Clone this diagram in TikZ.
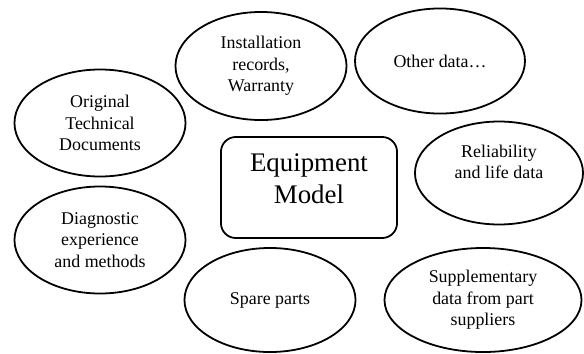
\documentclass[tikz,border=0pt]{standalone}
\usepackage{fontspec}
\setmainfont{Liberation Serif}
\usetikzlibrary{shapes.geometric}
\tikzset{
  oval/.style={ellipse, draw, line width=1.2pt, inner sep=0pt, align=center,
    font=\fontsize{12}{14.4}\selectfont},
  txt/.style={inner sep=0pt, align=center, font=\fontsize{12}{14.4}\selectfont},
}

\begin{document}
\begin{tikzpicture}[x=0.67pt, y=-0.67pt]
  \useasboundingbox (0,0) rectangle (584,353);
  % Data sources around the model
  \foreach \n/\x/\y/\w/\h/\t in {
      inst/261/66/114.6/72.4/{Installation\\records,\\Warranty},
      other/440/61/113.9/70.4/{Other data\ldots},
      orig/100/123/114.6/71.7/{Original\\Technical\\Documents},
      diag/100/240/114.6/71.7/{Diagnostic\\experience\\and methods},
      spare/270/300/114.6/69.7/{Spare parts},
      suppl/483/300/132/69.7/{Supplementary\\data from part\\suppliers}}
    \node[oval, minimum width=\w pt, minimum height=\h pt] (\n) at (\x,\y) {\t};
  % Reliability: text sits high in the oval
  \node[oval, minimum width=112.6pt, minimum height=69pt] (reliab) at (499,173) {};
  \node[txt] (reliabtxt) at (499,162) {Reliability\\and life data};
  % Central model
  \node[draw, line width=1.2pt, rounded corners=10pt, minimum width=118pt,
        minimum height=67.7pt] (model) at (309,187.5) {};
  \node[txt, font=\fontsize{18}{21.5}\selectfont] (modeltxt) at (309,179)
        {Equipment\\Model};
\end{tikzpicture}
\end{document}
